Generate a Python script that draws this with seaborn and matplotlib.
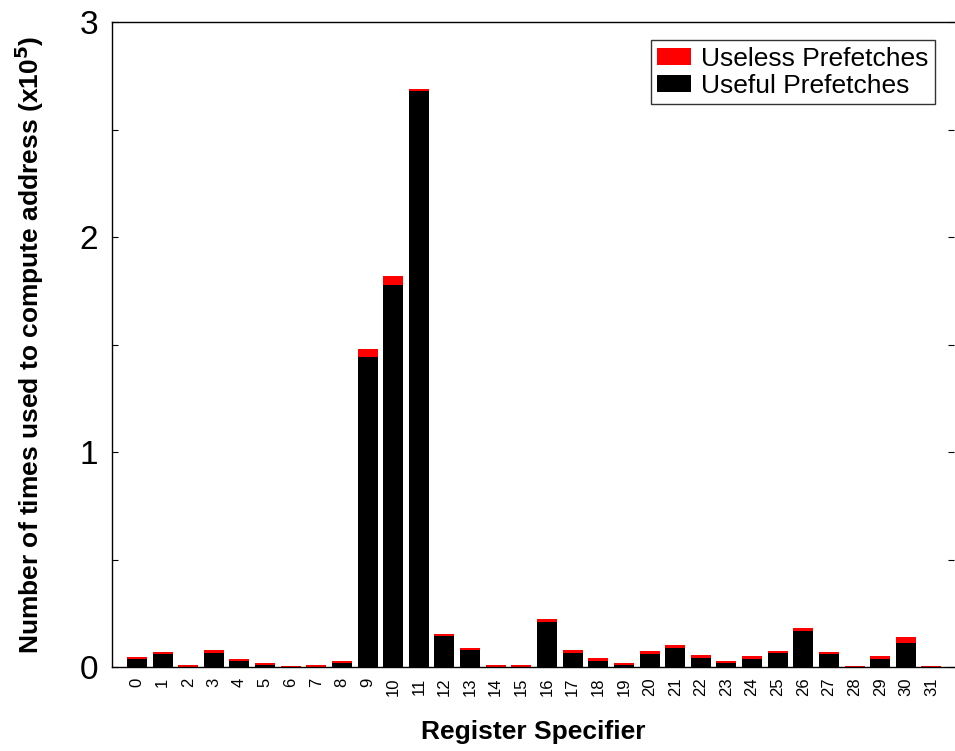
import numpy as np
import pandas as pd
import matplotlib
matplotlib.use("Agg")
import matplotlib.pyplot as plt
from matplotlib.patches import Patch
from matplotlib.ticker import MultipleLocator
import seaborn as sns

# Data (x10^5)
registers = [str(i) for i in range(32)]
useful = [0.036, 0.060, 0.002, 0.067, 0.026, 0.009, 0.000, 0.002,
          0.017, 1.443, 1.778, 2.678, 0.146, 0.078, 0.002, 0.000,
          0.211, 0.067, 0.029, 0.008, 0.062, 0.088, 0.043, 0.017,
          0.039, 0.064, 0.169, 0.060, 0.000, 0.039, 0.110, 0.000]
useless = [0.010, 0.010, 0.006, 0.011, 0.010, 0.010, 0.006, 0.006,
           0.009, 0.036, 0.042, 0.010, 0.009, 0.009, 0.009, 0.008,
           0.011, 0.011, 0.011, 0.009, 0.011, 0.013, 0.011, 0.009,
           0.011, 0.009, 0.011, 0.010, 0.006, 0.011, 0.028, 0.006]

df = pd.DataFrame({"Register": registers, "Useful": useful, "Useless": useless})
df["Total"] = df["Useful"] + df["Useless"]

sns.set_style("white")
plt.rcParams['font.family'] = ['Liberation Sans', 'DejaVu Sans']
plt.rcParams.update({"text.color": "black", "axes.labelcolor": "black",
                     "xtick.color": "black", "ytick.color": "black"})

fig = plt.figure(figsize=(9.55, 7.51), dpi=100)
ax = fig.add_axes([0.1173, 0.1118, 0.8817, 0.8589])

sns.barplot(data=df, x="Register", y="Total", color="#ff0000", saturation=1,
            width=0.78, linewidth=0.0, ax=ax)
sns.barplot(data=df, x="Register", y="Useful", color="black", saturation=1,
            width=0.78, linewidth=0.0, ax=ax)

ax.set_xlim(-0.97, 31.88)
ax.set_ylim(0, 3)
ax.yaxis.set_major_locator(MultipleLocator(1))
ax.yaxis.set_minor_locator(MultipleLocator(0.5))
ax.tick_params(axis='y', which='both', direction='in', length=4, width=0.8,
               left=True, right=True, labelsize=24, pad=10)
ax.tick_params(axis='x', which='both', bottom=False, labelsize=12,
               labelrotation=90, pad=4)

for s in ["left", "bottom", "top"]:
    ax.spines[s].set_visible(True)
    ax.spines[s].set_color("black")
    ax.spines[s].set_linewidth(1.0)
ax.spines["right"].set_visible(False)

ax.set_xlabel("Register Specifier", fontsize=19, fontweight='bold', labelpad=17)
ax.set_ylabel("Number of times used to compute address (x10$^{\\mathbf{5}}$)",
              fontsize=19, fontweight='bold', labelpad=24)

handles = [Patch(facecolor="#ff0000", edgecolor="none", label="Useless Prefetches"),
           Patch(facecolor="black", edgecolor="none", label="Useful Prefetches")]
leg = ax.legend(handles=handles, loc="upper right", bbox_to_anchor=(0.977, 0.972),
                fontsize=19, frameon=True, fancybox=False, handlelength=1.3,
                handleheight=0.65, handletextpad=0.35, labelspacing=0.12,
                borderpad=0.25, borderaxespad=0)
leg.get_frame().set_edgecolor("black")
leg.get_frame().set_linewidth(1.0)

fig.savefig("out.png", dpi=100)
